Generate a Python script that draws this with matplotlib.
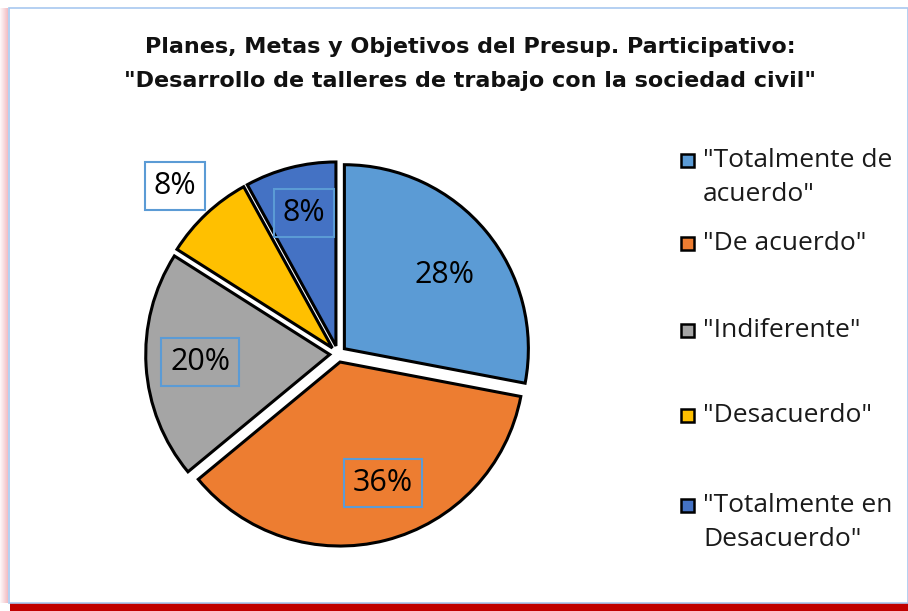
import matplotlib.pyplot as plt
from matplotlib.patches import Rectangle

# data
categories = ['"Totalmente de\nacuerdo"', '"De acuerdo"', '"Indiferente"',
              '"Desacuerdo"', '"Totalmente en\nDesacuerdo"']
values = [28, 36, 20, 8, 8]
colors = ['#5B9BD5', '#ED7D31', '#A5A5A5', '#FFC000', '#4472C4']
title_lines = ['Planes, Metas y Objetivos del Presup. Participativo:',
               '"Desarrollo de talleres de trabajo con la sociedad civil"']

body = 'Open Sans'

W, H = 908, 611
fig = plt.figure(figsize=(W / 100, H / 100), dpi=100)
fig.patch.set_facecolor('white')

def px(x, y):
    return x / W, 1 - y / H

# frame: pinkish left shadow, red bottom shadow, light blue border (behind everything)
for i in range(8):
    fig.add_artist(Rectangle(px(i, 603), 1 / W, 595 / H, transform=fig.transFigure,
                             color='#E06070', alpha=0.05 + 0.05 * i, lw=0, zorder=-5))
fig.add_artist(Rectangle(px(10, 611), (W - 10) / W, 8 / H, transform=fig.transFigure,
                         color='#C00000', lw=0, zorder=-5))
fig.add_artist(Rectangle(px(9, 603), (W - 9) / W, 595 / H, transform=fig.transFigure,
                         facecolor='white', edgecolor='#A8C8F0', lw=1.2, zorder=-4))

# title
for i, line in enumerate(title_lines):
    fig.text(*px(470, 47 + 34 * i), line, ha='center', va='center', fontsize=16,
             fontweight='bold', color='#111111')

# pie, centre ~ (338, 354), radius ~184 px
cx, cy, r = 338, 354, 184
half = 220
ax = fig.add_axes([(cx - half) / W, (H - cy - half) / H, 2 * half / W, 2 * half / H])
ax.patch.set_alpha(0)
wedges, _ = ax.pie(values, colors=colors, startangle=90, counterclock=False,
                   explode=[0.045] * len(values),
                   wedgeprops=dict(edgecolor='black', linewidth=2.2))
lim = half / r
ax.set_xlim(-lim, lim)
ax.set_ylim(-lim, lim)
ax.set_aspect('equal')
ax.axis('off')

# percent labels
label_pos = [(445, 275), (383, 483), (200, 362), (175, 186), (304, 213)]
boxed = [False, True, True, True, True]
for v, (lx, ly), b in zip(values, label_pos, boxed):
    kw = {}
    if b:
        kw['bbox'] = dict(boxstyle='square,pad=0.3', facecolor='none',
                          edgecolor='#5B9BD5', lw=1.5)
    fig.text(*px(lx, ly), f'{v}%', ha='center', va='center', fontsize=22,
             family=body, color='black', **kw)

# legend
leg_y = [160, 243, 330, 415, 505]
for cat, col, y in zip(categories, colors, leg_y):
    fig.add_artist(Rectangle(px(681, y + 7), 13 / W, 13 / H, transform=fig.transFigure,
                             facecolor=col, edgecolor='black', lw=1.8))
    fig.text(*px(703, y - 12), cat, ha='left', va='top', fontsize=19,
             family=body, color='#1a1a1a', linespacing=1.45)

fig.savefig('out.png', dpi=100)
